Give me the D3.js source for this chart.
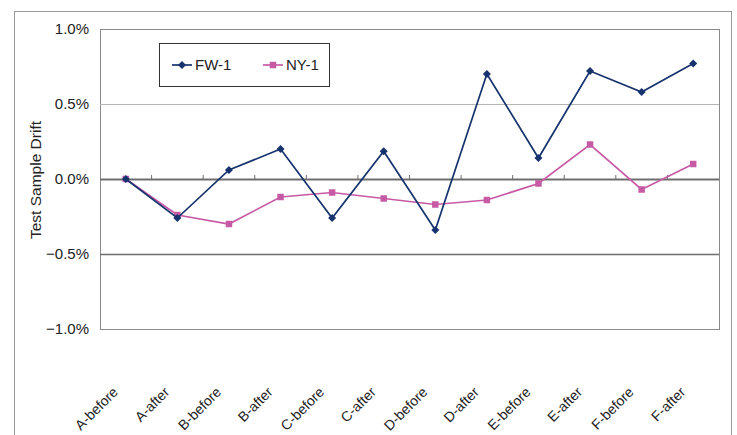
<!DOCTYPE html>
<html>
<head>
<meta charset="utf-8">
<script src="https://cdn.jsdelivr.net/npm/d3@7"></script>
<style>
  body { margin: 0; background: #fff; }
  svg { font-family: "Liberation Sans", Arial, sans-serif; }
</style>
</head>
<body>
<div id="chart"></div>
<script>
const categories = ["A-before", "A-after", "B-before", "B-after", "C-before", "C-after",
    "D-before", "D-after", "E-before", "E-after", "F-before", "F-after"];
const fwValues = [0.0, -0.26, 0.06, 0.20, -0.26, 0.185, -0.34, 0.70, 0.14, 0.72, 0.58, 0.77];
const nyValues = [0.0, -0.24, -0.30, -0.12, -0.09, -0.13, -0.17, -0.14, -0.03, 0.23, -0.07, 0.10];
const yTicks = [-1.0, -0.5, 0.0, 0.5, 1.0];

const width = 737, height = 435;
const plot = { left: 100, top: 29, right: 719, bottom: 329 };

const svg = d3.select("#chart").append("svg")
    .attr("width", width)
    .attr("height", height);

// outer chart frame
svg.append("rect")
    .attr("x", 14.5).attr("y", 11.5)
    .attr("width", 717).attr("height", 440)
    .attr("fill", "#fff")
    .attr("stroke", "#9a9a9a");

const x = d3.scaleBand()
    .domain(categories)
    .range([plot.left, plot.right]);

const y = d3.scaleLinear()
    .domain([-1, 1])
    .range([plot.bottom, plot.top]);

// plot area
svg.append("rect")
    .attr("x", plot.left + 0.5).attr("y", plot.top + 0.5)
    .attr("width", plot.right - plot.left).attr("height", plot.bottom - plot.top)
    .attr("fill", "#fff")
    .attr("stroke", "#8a8a8a");

// gridlines
svg.selectAll(".grid")
    .data(yTicks.filter(d => d !== 0 && Math.abs(d) !== 1))
    .enter().append("line")
    .attr("x1", plot.left).attr("x2", plot.right)
    .attr("y1", d => y(d) + 0.5).attr("y2", d => y(d) + 0.5)
    .attr("stroke", d => d < 0 ? "#6e6e6e" : "#b4b4b4")
    .attr("stroke-width", d => d < 0 ? 1.5 : 1);

// y axis labels
svg.selectAll(".ylab")
    .data(yTicks)
    .enter().append("text")
    .attr("x", 89)
    .attr("y", d => y(d))
    .attr("dy", "0.35em")
    .attr("text-anchor", "end")
    .attr("font-size", 15)
    .attr("fill", "#222")
    .text(d => d3.format(".1f")(d) + "%");

svg.append("text")
    .attr("transform", `translate(41,${y(0) + 1}) rotate(-90)`)
    .attr("text-anchor", "middle")
    .attr("font-size", 15.5)
    .attr("fill", "#222")
    .text("Test Sample Drift");

// category axis on zero line
const xAxis = svg.append("g")
    .attr("transform", `translate(0,${y(0)})`);
xAxis.append("line")
    .attr("x1", plot.left).attr("x2", plot.right)
    .attr("y1", 0.5).attr("y2", 0.5)
    .attr("stroke", "#6e6e6e")
    .attr("stroke-width", 2);
xAxis.selectAll(".tick")
    .data(categories.slice(1))
    .enter().append("line")
    .attr("x1", d => x(d)).attr("x2", d => x(d))
    .attr("y1", -4).attr("y2", 0)
    .attr("stroke", "#6e6e6e");

// category labels
svg.selectAll(".xlab")
    .data(categories)
    .enter().append("text")
    .attr("transform", d => `translate(${x(d) + x.bandwidth() / 2 - 7},${393}) rotate(-45)`)
    .attr("text-anchor", "end")
    .attr("font-size", 14)
    .attr("fill", "#222")
    .text(d => d);

const series = [
    { name: "FW-1", values: fwValues, color: "#17336e", shape: d3.symbolSquare, size: 32, rotate: 45 },
    { name: "NY-1", values: nyValues, color: "#c75aa5", shape: d3.symbolSquare, size: 42, rotate: 0 }
];

const line = d3.line()
    .x((d, i) => x(categories[i]) + x.bandwidth() / 2)
    .y(d => y(d));

series.slice().reverse().forEach(s => {
    const g = svg.append("g");
    g.append("path")
        .datum(s.values)
        .attr("fill", "none")
        .attr("stroke", s.color)
        .attr("stroke-width", 1.7)
        .attr("d", line);
    g.selectAll("path.pt")
        .data(s.values)
        .enter().append("path")
        .attr("class", "pt")
        .attr("transform", (d, i) => `translate(${x(categories[i]) + x.bandwidth() / 2},${y(d)}) rotate(${s.rotate})`)
        .attr("d", d3.symbol().type(s.shape).size(s.size))
        .attr("fill", s.color);
});

// legend
const legend = svg.append("g");
legend.append("rect")
    .attr("x", 159.5).attr("y", 43.5)
    .attr("width", 170).attr("height", 43)
    .attr("fill", "#fff")
    .attr("stroke", "#333");
series.forEach((s, i) => {
    const lx = 172 + i * 91;
    legend.append("line")
        .attr("x1", lx).attr("x2", lx + 20)
        .attr("y1", 65).attr("y2", 65)
        .attr("stroke", s.color)
        .attr("stroke-width", 1.7);
    legend.append("path")
        .attr("transform", `translate(${lx + 10},65) rotate(${s.rotate})`)
        .attr("d", d3.symbol().type(s.shape).size(s.size))
        .attr("fill", s.color);
    legend.append("text")
        .attr("x", lx + 23).attr("y", 65)
        .attr("dy", "0.35em")
        .attr("font-size", 15)
        .attr("fill", "#222")
        .text(s.name);
});
</script>
</body>
</html>
